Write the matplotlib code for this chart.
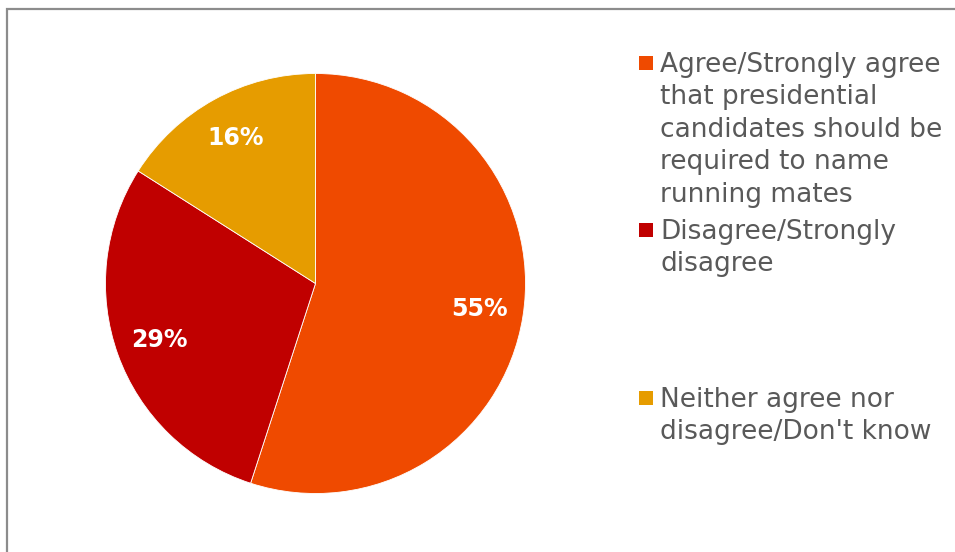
import matplotlib
matplotlib.use("Agg")
import matplotlib.pyplot as plt
from matplotlib.patches import Rectangle

categories = [
    "Agree/Strongly agree\nthat presidential\ncandidates should be\nrequired to name\nrunning mates",
    "Disagree/Strongly\ndisagree",
    "Neither agree nor\ndisagree/Don't know",
]
values = [55, 29, 16]
colors = ["#EF4A00", "#C00000", "#E69C00"]

W, H = 955, 552
fig = plt.figure(figsize=(W / 100, H / 100), dpi=100)
fig.patch.set_facecolor("white")

# slide frame: gray border on the left and top edges
frame = Rectangle((6.5 / W, -0.2), 1.2, (H - 9) / H + 0.2, transform=fig.transFigure,
                  fill=False, edgecolor="#8c8c8c", linewidth=1.6)
fig.add_artist(frame)

# pie axes: centred at (315.5, 283.5) px with radius 210 px
cx, cy, r = 315.5, 283.5, 210
ax = fig.add_axes([(cx - r) / W, (H - cy - r) / H, 2 * r / W, 2 * r / H])
wedges, texts, autotexts = ax.pie(
    values, colors=colors, startangle=90, counterclock=False,
    autopct=lambda p: f"{p:.0f}%", pctdistance=0.79,
    wedgeprops=dict(linewidth=0.6, edgecolor="white"),
    textprops=dict(color="white", fontsize=17, fontweight="bold", family="DejaVu Sans"),
)
ax.set_xlim(-1, 1)
ax.set_ylim(-1, 1)
ax.set_aspect("equal")
ax.axis("off")

# legend entries: coloured square plus wrapped label
entry_tops = [53, 220, 388]
for label, color, top in zip(categories, colors, entry_tops):
    fig.add_artist(Rectangle((639 / W, (H - top - 17) / H), 14 / W, 14 / H,
                             transform=fig.transFigure, facecolor=color, edgecolor="none"))
    fig.text(660 / W, (H - top + 1) / H, label, ha="left", va="top",
             fontsize=19, color="#595959", family="DejaVu Sans",
             linespacing=1.32)

fig.savefig("out.png", dpi=100, facecolor="white")
